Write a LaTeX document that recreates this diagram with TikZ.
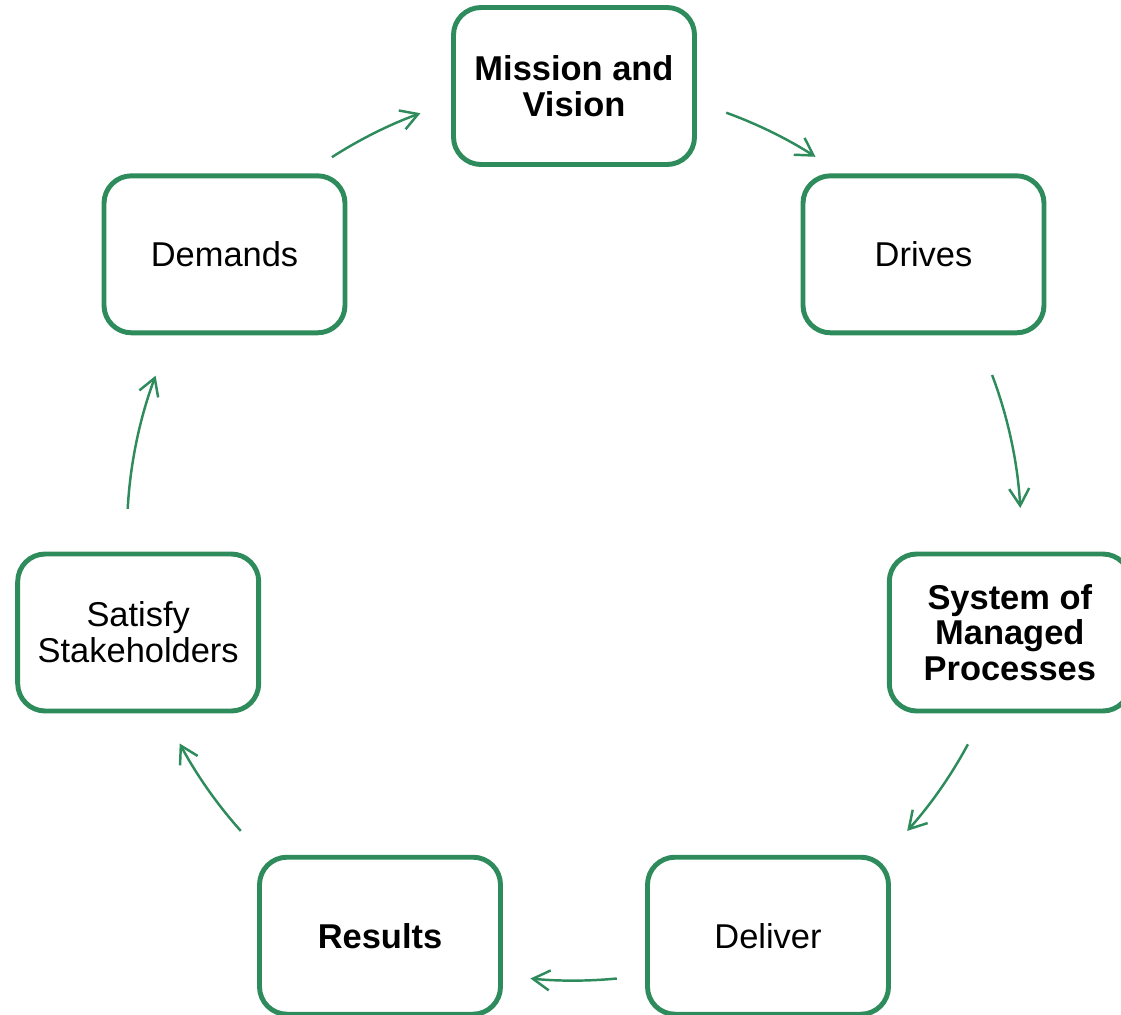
\documentclass[tikz,border=0pt]{standalone}
\usepackage{fontspec}
\setmainfont{Liberation Sans}
\usetikzlibrary{arrows.meta}
\definecolor{sgreen}{RGB}{46,139,92}

\begin{document}
\begin{tikzpicture}
    [x=0.2mm, y=-0.2mm,
    stage/.style={draw=sgreen, line width=2.8pt, rounded corners=0.55cm, fill=white, minimum width=4.82cm, minimum height=3.14cm, align=center, inner sep=2pt, font=\fontsize{19.6}{20.5}\selectfont},
    keystage/.style={stage, font=\fontsize{19.6}{20.2}\selectfont\bfseries},
    link/.style={draw=sgreen, line width=1.4pt, looseness=0.85},
    >={Straight Barb[length=3.4mm, width=4mm]}]
     \useasboundingbox (0,0) rectangle (1121,1014);
     \node[keystage] (mis) at (574, 86)      {Mission and\\Vision};
     \node[stage]    (drv) at (923.5, 254.3) {Drives};
     \node[keystage] (sys) at (1009.8, 632.5) {System of\\Managed\\Processes};
     \node[stage]    (dlv) at (768, 935.7)   {Deliver};
     \node[keystage] (res) at (380, 935.7)   {Results};
     \node[stage]    (sat) at (138.2, 632.5) {Satisfy\\Stakeholders};
     \node[stage]    (dem) at (224.5, 254.3) {Demands};
     % arrow ends, on the circle round the cycle
     \coordinate (s1) at (331.9, 157.2);
     \coordinate (t1) at (420.4, 113.2);
     \coordinate (s2) at (726.2, 112.7);
     \coordinate (t2) at (815.5, 156.8);
     \coordinate (s3) at (992.1, 375.0);
     \coordinate (t3) at (1020.3, 508.0);
     \coordinate (s4) at (967.9, 744.3);
     \coordinate (t4) at (907.2, 830.9);
     \coordinate (s5) at (616.8, 978.5);
     \coordinate (t5) at (530.4, 978.5);
     \coordinate (s6) at (240.8, 830.9);
     \coordinate (t6) at (179.7, 743.5);
     \coordinate (s7) at (127.7, 508.8);
     \coordinate (t7) at (155.6, 375.7);
     \draw[->, link] (s1) to[bend left=6.35] (t1);
     \draw[->, link] (s2) to[bend left=6.4] (t2);
     \draw[->, link] (s3) to[bend left=8.75] (t3);
     \draw[->, link] (s4) to[bend left=6.8] (t4);
     \draw[->, link] (s5) to[bend left=5.55] (t5);
     \draw[->, link] (s6) to[bend left=6.85] (t6);
     \draw[->, link] (s7) to[bend left=8.75] (t7);
\end{tikzpicture}
\end{document}
